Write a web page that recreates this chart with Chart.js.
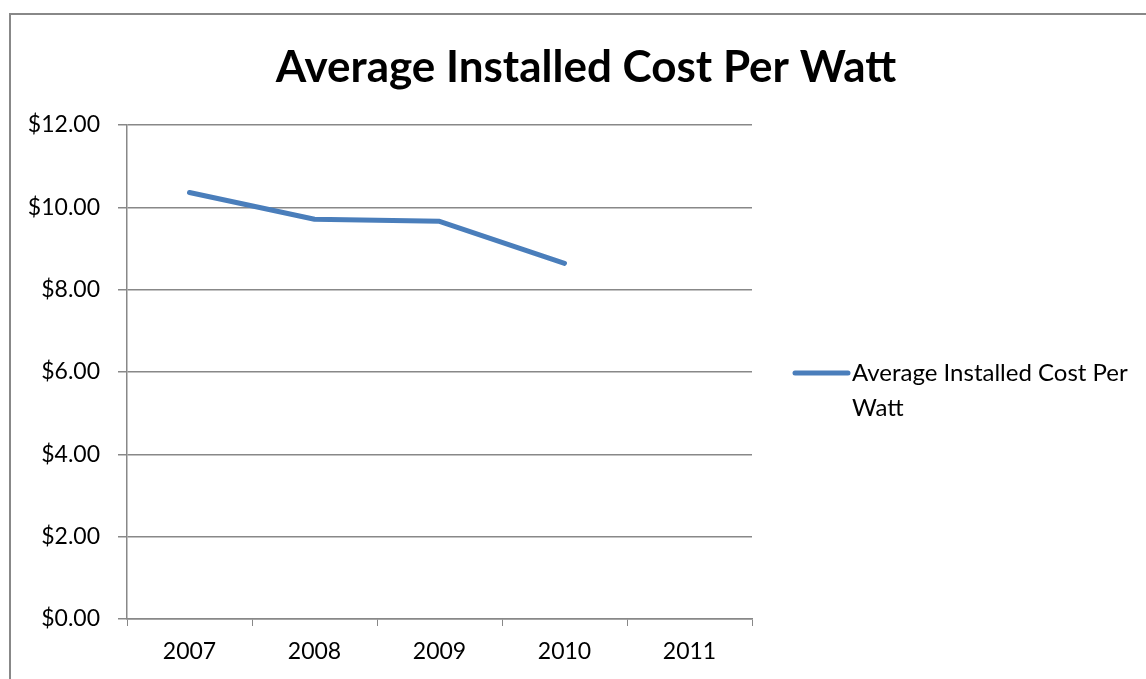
<!DOCTYPE html>
<html lang="en">
<head>
    <title>Average Installed Cost Per Watt</title>
    <script src="https://cdn.jsdelivr.net/npm/chart.js"></script>
    <style>
        body { margin: 0; overflow: hidden; background: #fff; }
        #wrap { position: relative; width: 1146px; height: 679px; }
        #frame { position: absolute; left: 9px; top: 13px; width: 1200px; height: 700px;
                 border: 2px solid #888; pointer-events: none; box-sizing: border-box; }
    </style>
</head>
<body>
<div id="wrap">
    <canvas id="myChart" width="1146" height="679"></canvas>
    <div id="frame"></div>
</div>
<script>
    const years = ['2007', '2008', '2009', '2010', '2011'];
    const costPerWatt = [10.36, 9.71, 9.66, 8.64, null];
    const seriesName = 'Average Installed Cost Per Watt';
    const chartTitle = 'Average Installed Cost Per Watt';
    const legendLines = ['Average Installed Cost Per', 'Watt'];
    const lineColor = '#4A7EBB';
    const fontFamily = 'Lato, "Open Sans", sans-serif';

    // title centred on the whole frame and a legend that wraps, as in the original
    const titleAndLegend = {
        id: 'titleAndLegend',
        afterDraw(chart) {
            const ctx = chart.ctx;
            ctx.save();
            ctx.fillStyle = '#000';
            ctx.font = 'bold 44px ' + fontFamily;
            ctx.textAlign = 'center';
            ctx.textBaseline = 'middle';
            ctx.fillText(chartTitle, 586, 68);

            const x0 = chart.chartArea.right + 43;
            const y0 = 373;
            ctx.strokeStyle = lineColor;
            ctx.lineWidth = 5;
            ctx.lineCap = 'round';
            ctx.beginPath();
            ctx.moveTo(x0, y0);
            ctx.lineTo(x0 + 53, y0);
            ctx.stroke();
            ctx.font = '24px ' + fontFamily;
            ctx.textAlign = 'left';
            legendLines.forEach((t, i) => ctx.fillText(t, x0 + 57, y0 + i * 35));
            ctx.restore();
        }
    };

    const ctx = document.getElementById('myChart').getContext('2d');
    new Chart(ctx, {
        type: 'line',
        data: {
            labels: years,
            datasets: [{
                label: seriesName,
                data: costPerWatt,
                borderColor: lineColor,
                borderWidth: 5,
                borderCapStyle: 'round',
                borderJoinStyle: 'round',
                pointRadius: 0,
                tension: 0,
                fill: false
            }]
        },
        options: {
            responsive: false,
            animation: false,
            layout: { padding: { left: 0, right: 394, top: 125, bottom: 0 } },
            plugins: {
                legend: { display: false },
                tooltip: { enabled: false },
                title: { display: false }
            },
            scales: {
                x: {
                    offset: true,
                    grid: {
                        offset: true,
                        drawOnChartArea: false,
                        drawTicks: true,
                        tickLength: 7,
                        color: '#888'
                    },
                    border: { color: '#888', width: 1.5 },
                    ticks: {
                        color: '#000',
                        padding: 12,
                        font: { family: fontFamily, size: 23 }
                    },
                    afterFit(scale) { scale.height = 60; }
                },
                y: {
                    min: 0,
                    max: 12,
                    grid: { color: '#888', lineWidth: 1.5, tickLength: 9 },
                    border: { color: '#888', width: 1.5 },
                    ticks: {
                        stepSize: 2,
                        color: '#000',
                        padding: 18,
                        font: { family: fontFamily, size: 23 },
                        callback: v => '$' + v.toFixed(2)
                    },
                    afterFit(scale) { scale.width = 127; }
                }
            }
        },
        plugins: [titleAndLegend]
    });
</script>
</body>
</html>
